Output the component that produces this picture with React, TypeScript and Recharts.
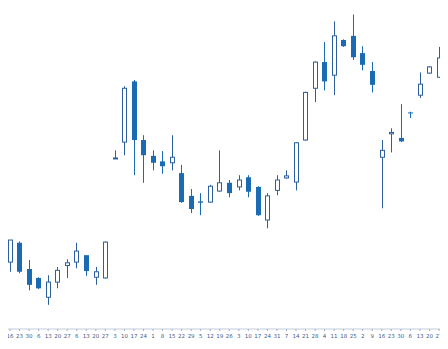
import { ComposedChart, Bar, XAxis, YAxis } from 'recharts';

// weekly candles, Jan 2023 .. Dec 2023
const days = [9, 16, 23, 30, 6, 13, 20, 27, 6, 13, 20, 27, 3, 10, 17, 24, 1, 8, 15, 22, 29, 5, 12, 19, 26, 3, 10, 17, 24, 31, 7, 14, 21, 28, 4, 11, 18, 25, 2, 9, 16, 23, 30, 6, 13, 20, 27, 4];
const monthNames = ['2023', "Feb '23", "Mar '23", "Apr '23", "May '23", "Jun '23", "Jul '23", "Aug '23", "Sep '23", "Oct '23", "Nov '23", "Dec '23"];

const opens = [108.4, 108.4, 111.2, 107.4, 106.1, 103.3, 105.5, 107.9, 108.4, 109.4, 106.2, 106.1, 123.4, 125.8, 134.6, 126.1, 123.8, 123.0, 122.8, 121.3, 118.0, 117.2, 117.1, 118.7, 119.9, 119.3, 120.7, 119.3, 114.5, 118.8, 120.6, 120.0, 126.1, 133.6, 137.4, 135.5, 140.6, 141.2, 138.7, 136.1, 123.6, 127.0, 126.4, 130.1, 132.6, 135.8, 135.2, 138.1];
const closes = [110.9, 111.6, 107.0, 105.1, 104.6, 105.5, 107.2, 108.3, 110.0, 107.1, 107.0, 111.3, 123.5, 133.6, 126.1, 123.9, 122.8, 122.3, 123.6, 117.1, 116.1, 117.0, 119.4, 119.9, 118.4, 120.3, 118.6, 115.2, 118.0, 120.3, 120.9, 125.7, 133.0, 137.4, 134.6, 141.2, 139.7, 138.1, 137.0, 134.1, 124.6, 127.2, 125.9, 130.0, 134.2, 136.7, 138.0, 137.4];
const highs = [111.4, 111.6, 111.4, 108.7, 106.2, 106.5, 107.7, 108.8, 111.2, 109.4, 107.7, 111.4, 124.6, 133.9, 134.8, 126.8, 124.6, 124.5, 126.8, 122.5, 119.0, 118.4, 119.6, 124.6, 120.3, 121.0, 121.0, 119.4, 118.4, 121.0, 121.7, 125.8, 133.1, 137.5, 140.3, 143.3, 140.7, 144.3, 139.7, 137.4, 126.1, 127.8, 131.3, 130.2, 135.9, 136.8, 139.6, 138.7];
const lows = [108.0, 107.0, 106.8, 104.3, 104.5, 102.2, 104.6, 106.1, 107.5, 106.4, 105.1, 106.0, 123.4, 123.9, 121.0, 119.9, 121.7, 121.2, 121.7, 117.0, 115.5, 115.2, 117.0, 118.6, 117.8, 118.8, 117.8, 115.1, 113.3, 118.1, 120.5, 118.8, 126.0, 131.6, 133.3, 132.6, 139.6, 137.7, 136.2, 133.0, 116.2, 124.3, 125.8, 129.3, 132.2, 135.7, 135.1, 137.0];

const priceTicks = [100, 110, 120, 130, 140];

const UP = '#2b5f9e';
const DOWN = '#1a6ab4';

const data = days.map((day, i) => ({
  i,
  day,
  open: opens[i],
  close: closes[i],
  high: highs[i],
  low: lows[i],
}));

// group weeks into months (new month when the day number drops)
const monthGroups: number[][] = [];
days.forEach((d, i) => {
  if (i === 0 || d < days[i - 1]) monthGroups.push([]);
  monthGroups[monthGroups.length - 1].push(i);
});
const monthTicks = monthGroups.map(g => (g[0] + g[g.length - 1]) / 2);

function Candle(props: any) {
  const { x, y, width, height, payload } = props;
  const { open, close, high, low } = payload;
  const up = close >= open;
  const k = height / (high - low);
  const py = (v: number) => y + (high - v) * k;
  const cx = Math.round(x + width / 2) + 0.5;
  const top = py(Math.max(open, close));
  const bodyH = Math.max(1, py(Math.min(open, close)) - top);
  const color = up ? UP : DOWN;
  return (
    <g>
      <line x1={cx} x2={cx} y1={y} y2={y + height} stroke={color} strokeWidth={1} />
      {up ? (
        <rect x={cx - 2} y={top} width={4} height={bodyH} fill="#fff" stroke={color} strokeWidth={1} />
      ) : (
        <rect x={cx - 2.5} y={top} width={5} height={bodyH} fill={color} />
      )}
    </g>
  );
}

export default function App() {
  return (
    <div style={{ margin: -8, width: 448, height: 349, overflow: 'hidden', background: '#fff', position: 'relative' }}>
      <div style={{ position: 'absolute', left: -20, top: 0 }}>
        <ComposedChart
          width={510}
          height={349}
          data={data}
          margin={{ top: 0, right: 6, bottom: 0, left: 0 }}
          style={{ fontFamily: 'DejaVu Sans, sans-serif' }}
        >
          <XAxis
            xAxisId="day"
            dataKey="i"
            type="number"
            domain={[0, 47]}
            padding={{ left: 20.5, right: -4.5 }}
            ticks={data.map(d => d.i)}
            interval={0}
            tickFormatter={(v: number) => String(days[v])}
            height={9}
            tickSize={2}
            tickMargin={3}
            axisLine={{ stroke: '#c3cddb' }}
            tickLine={{ stroke: '#9fb0c8' }}
            tick={{ fontSize: 5.5, fill: '#3d5c8c' }}
          />
          <XAxis
            xAxisId="month"
            dataKey="i"
            type="number"
            domain={[0, 47]}
            padding={{ left: 20.5, right: -4.5 }}
            ticks={monthTicks}
            interval={0}
            tickFormatter={(_v: number, idx: number) => monthNames[idx]}
            height={11}
            axisLine={false}
            tickLine={false}
            tickMargin={3}
            tick={{ fontSize: 5.5, fill: '#4d6a95' }}
          />
          <YAxis
            orientation="right"
            type="number"
            domain={[98.7, 146.4]}
            ticks={priceTicks}
            width={40}
            tickSize={3}
            axisLine={{ stroke: '#8fa3c2' }}
            tickLine={{ stroke: '#5f7aa3' }}
            tick={{ fontSize: 9, fill: '#3d5c8c' }}
          />
          <Bar
            xAxisId="day"
            dataKey={(d: any) => [d.low, d.high]}
            barSize={5}
            shape={<Candle />}
            isAnimationActive={false}
          />
        </ComposedChart>
      </div>
    </div>
  );
}
